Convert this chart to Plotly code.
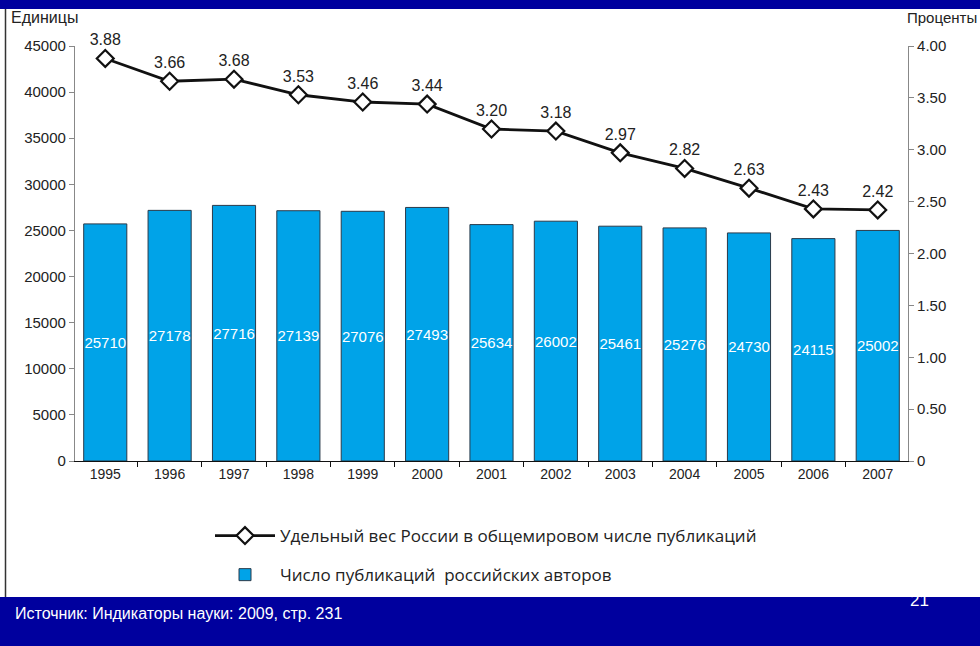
import plotly.graph_objects as go

# Data
years = ["1995", "1996", "1997", "1998", "1999", "2000", "2001",
         "2002", "2003", "2004", "2005", "2006", "2007"]
publications = [25710, 27178, 27716, 27139, 27076, 27493, 25634,
                26002, 25461, 25276, 24730, 24115, 25002]
share_pct = [3.88, 3.66, 3.68, 3.53, 3.46, 3.44, 3.20,
             3.18, 2.97, 2.82, 2.63, 2.43, 2.42]

left_ticks = [0, 5000, 10000, 15000, 20000, 25000, 30000, 35000, 40000, 45000]
right_ticks = [0, 0.5, 1.0, 1.5, 2.0, 2.5, 3.0, 3.5, 4.0]
right_ticktext = ["0", "0.50", "1.00", "1.50", "2.00", "2.50", "3.00", "3.50", "4.00"]

line_name = "Удельный вес России в общемировом числе публикаций"
bar_name = "Число публикаций  российских авторов"

# Figure geometry (pixels)
W, H = 980, 646
ML, MR, MT, MB = 75, 72, 46, 185
PW, PH = W - ML - MR, H - MT - MB


def px_x(x):
    return (x - ML) / PW


def px_y(y):
    return (H - MB - y) / PH


BAND = "#00009e"
BAR = "#00a3e8"
TEXT = "#222222"
SANS = "Liberation Sans, Arial, sans-serif"

fig = go.Figure()

fig.add_trace(go.Scatter(
    x=years, y=share_pct, yaxis="y2", name=line_name,
    mode="lines+markers+text",
    text=[f"{v:.2f}" for v in share_pct],
    textposition="top center",
    textfont=dict(family=SANS, size=16, color=TEXT),
    line=dict(color="#111111", width=2.8),
    marker=dict(symbol="diamond", size=13, color="white",
                line=dict(color="#111111", width=2.2)),
    legendgroup="a", cliponaxis=False,
))

fig.add_trace(go.Bar(
    x=years, y=publications, name=bar_name,
    marker=dict(color=BAR, line=dict(color="#2a3a4a", width=1)),
    width=0.67,
    text=[str(v) for v in publications],
    textposition="inside", insidetextanchor="middle",
    constraintext="none",
    textfont=dict(family=SANS, size=15, color="white"),
    textangle=0,
    legendgroup="b",
))

fig.update_layout(
    width=W, height=H,
    margin=dict(l=ML, r=MR, t=MT, b=MB),
    paper_bgcolor="white", plot_bgcolor="white",
    showlegend=True,
    legend=dict(
        x=px_x(210), y=px_y(518), xanchor="left", yanchor="top",
        font=dict(family="Open Sans, sans-serif", size=17, color=TEXT),
        traceorder="grouped", tracegroupgap=14,
        itemwidth=60, bgcolor="rgba(0,0,0,0)",
    ),
    xaxis=dict(
        type="category", range=[-0.47, 12.47],
        tickson="boundaries", ticks="outside", ticklen=5,
        tickcolor="#111111", showline=True, linecolor="#111111", linewidth=1.2,
        showgrid=False, tickfont=dict(family=SANS, size=14, color=TEXT),
    ),
    yaxis=dict(
        range=[0, 45000], tickvals=left_ticks,
        ticktext=[str(v) for v in left_ticks],
        ticks="outside", ticklen=5, tickcolor="#888888",
        showline=True, linecolor="#888888", linewidth=1.2,
        showgrid=False, zeroline=False,
        tickfont=dict(family=SANS, size=15, color=TEXT),
    ),
    yaxis2=dict(
        range=[0, 4.0], overlaying="y", side="right",
        tickvals=right_ticks, ticktext=right_ticktext,
        ticks="outside", ticklen=5, tickcolor="#888888",
        showline=True, linecolor="#888888", linewidth=1.2,
        showgrid=False, zeroline=False,
        tickfont=dict(family=SANS, size=15, color=TEXT),
    ),
    shapes=[
        # top band
        dict(type="rect", xref="paper", yref="paper",
             x0=px_x(0), x1=px_x(W), y0=px_y(9), y1=px_y(0),
             fillcolor=BAND, line=dict(width=0), layer="below"),
        # bottom band
        dict(type="rect", xref="paper", yref="paper",
             x0=px_x(0), x1=px_x(W), y0=px_y(H), y1=px_y(597),
             fillcolor=BAND, line=dict(width=0), layer="below"),
        # left frame edge
        dict(type="line", xref="paper", yref="paper",
             x0=px_x(5.5), x1=px_x(5.5), y0=px_y(597), y1=px_y(9),
             line=dict(color="#333333", width=1.5)),
    ],
    annotations=[
        dict(text="Единицы", xref="paper", yref="paper",
             x=px_x(9), y=px_y(18), xanchor="left", yanchor="middle",
             showarrow=False, font=dict(family=SANS, size=16, color=TEXT)),
        dict(text="Проценты", xref="paper", yref="paper",
             x=px_x(905), y=px_y(18), xanchor="left", yanchor="middle",
             showarrow=False, font=dict(family=SANS, size=15, color=TEXT)),
        dict(text="Источник: Индикаторы науки: 2009, стр. 231", xref="paper", yref="paper",
             x=px_x(13), y=px_y(613), xanchor="left", yanchor="middle",
             showarrow=False, font=dict(family=SANS, size=16, color="white")),
        dict(text="21", xref="paper", yref="paper",
             x=px_x(919), y=px_y(600), xanchor="center", yanchor="middle",
             showarrow=False, font=dict(family=SANS, size=17, color="white")),
    ],
)

fig.write_html("out.html")
